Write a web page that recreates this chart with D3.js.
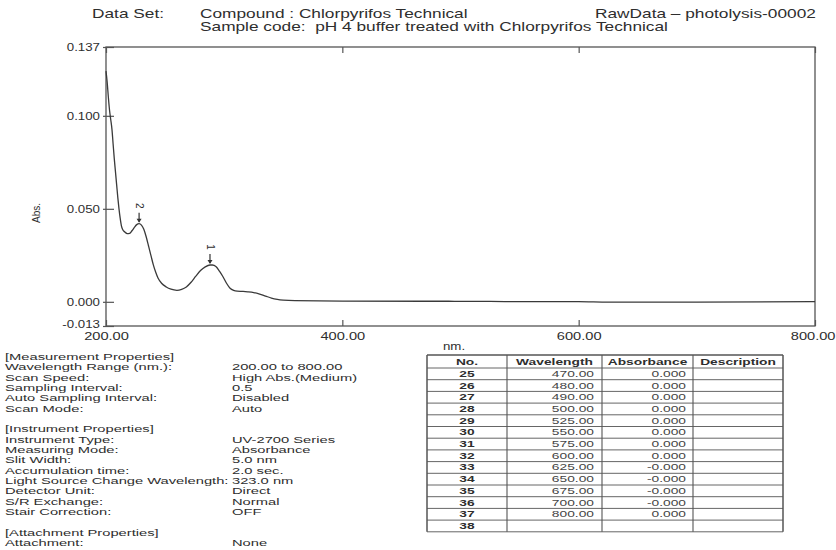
<!DOCTYPE html>
<html><head><meta charset="utf-8">
<script src="https://cdn.jsdelivr.net/npm/d3@7"></script>
<style>html,body{margin:0;padding:0;background:#fff;}svg{display:block;} text{white-space:pre;}</style>
</head><body>
<svg id="c" width="836" height="550"></svg>
<script>
// ---------- data ----------
const wavelengths = [200,201,202,203,204,205,206,207,208,209,210,211,212,213,214,216,218,220,222,224,226,228,230,232,234,236,238,240,242,244,247,251,255,260,264,268,272,276,280,284,288,290,293,296,299,302,305,308,311,316,320,325,330,335,340,345,350,360,400,470,480,490,500,525,550,575,600,625,650,675,700,800];
const absorbance  = [0.124,0.118,0.110,0.103,0.098,0.093,0.085,0.077,0.070,0.063,0.056,0.050,0.045,0.041,0.039,0.0375,0.0367,0.0368,0.0382,0.040,0.0415,0.042,0.0412,0.039,0.035,0.030,0.025,0.020,0.016,0.0128,0.0100,0.0080,0.0068,0.0062,0.0067,0.0080,0.0105,0.0138,0.0168,0.0188,0.0198,0.0198,0.0190,0.0165,0.0135,0.0100,0.0073,0.0061,0.0057,0.0056,0.0054,0.0050,0.0042,0.0031,0.0020,0.0013,0.0009,0.0006,0.0004,0.0003,0.0003,0.0003,0.0002,0.0002,0.0001,0.0001,0.0001,-0.0002,-0.0002,-0.0002,-0.0002,0.0001];
const peakWavelengths = [288, 228];
const peakAbsorbance  = [0.0198, 0.042];
const peakLabels = ["1", "2"];
const yTicks = [0.137, 0.100, 0.050, 0.000, -0.013];
const yTickLabels = ["0.137", "0.100", "0.050", "0.000", "-0.013"];
const xTicks = [200, 400, 600, 800];
const xTickLabels = ["200.00", "400.00", "600.00", "800.00"];

const headerLines = [
  ["Data Set:", "Compound : Chlorpyrifos Technical", "RawData \u2013 photolysis-00002"],
  ["", "Sample code:  pH 4 buffer treated with Chlorpyrifos Technical", ""]
];
const propLabels = ["[Measurement Properties]","Wavelength Range (nm.):","Scan Speed:","Sampling Interval:","Auto Sampling Interval:","Scan Mode:","","[Instrument Properties]","Instrument Type:","Measuring Mode:","Slit Width:","Accumulation time:","Light Source Change Wavelength:","Detector Unit:","S/R Exchange:","Stair Correction:","","[Attachment Properties]","Attachment:"];
const propValues = ["","200.00 to 800.00","High Abs.(Medium)","0.5","Disabled","Auto","","","UV-2700 Series","Absorbance","5.0 nm","2.0 sec.","323.0 nm","Direct","Normal","OFF","","","None"];

const tableHeaders = ["No.", "Wavelength", "Absorbance", "Description"];
const tableNo  = ["25","26","27","28","29","30","31","32","33","34","35","36","37","38"];
const tableWl  = ["470.00","480.00","490.00","500.00","525.00","550.00","575.00","600.00","625.00","650.00","675.00","700.00","800.00",""];
const tableAbs = ["0.000","0.000","0.000","0.000","0.000","0.000","0.000","0.000","-0.000","-0.000","-0.000","-0.000","0.000",""];

// ---------- drawing ----------
const SX = 1.33;
const INK = "#2e2e2e";
const FONT = "'Liberation Sans', Arial, sans-serif";
const svg = d3.select("#c");
svg.append("rect").attr("width",836).attr("height",550).attr("fill","#fff");

function T(g, x, y, s, o = {}) {
  return g.append("text")
    .attr("transform", `translate(${x},${y}) scale(${o.sx || SX},1)`)
    .attr("text-anchor", o.anchor || "start")
    .attr("font-family", FONT)
    .attr("font-size", o.size || 11)
    .attr("font-weight", o.weight || "normal")
    .attr("fill", o.fill || INK)
    .text(s);
}

// header
const hdr = svg.append("g");
const hx = [92, 200, 595], hy = [18, 31];
headerLines.forEach((line, r) => line.forEach((s, c) => { if (s) T(hdr, hx[c], hy[r], s, {size: 13}); }));

// plot
const L = 106, R = 815, TOP = 47, BOT = 326;
const x = d3.scaleLinear().domain([200, 800]).range([L, R]);
const y = d3.scaleLinear().domain([-0.013, 0.137]).range([BOT, TOP]);

const plot = svg.append("g");
plot.append("rect").attr("x", L).attr("y", TOP).attr("width", R - L).attr("height", BOT - TOP)
  .attr("fill", "none").attr("stroke", "#555").attr("stroke-width", 1.3);

function fixText(sel, sx) {
  sel.selectAll("text").each(function () {
    const t = d3.select(this);
    const tx = +t.attr("x") || 0, ty = +t.attr("y") || 0;
    t.attr("x", null).attr("y", null)
     .attr("transform", `translate(${tx},${ty}) scale(${sx},1)`)
     .attr("fill", INK);
  });
}

// left axis
const gy = plot.append("g").attr("transform", `translate(${L},0)`)
  .call(d3.axisLeft(y).tickValues(yTicks).tickSize(-8).tickPadding(6)
        .tickFormat((d, i) => yTickLabels[i]));
gy.select(".domain").remove();
gy.selectAll(".tick line").attr("x1", -3).attr("stroke", "#555").attr("stroke-width", 1.2);
gy.selectAll("text").attr("font-family", FONT).attr("font-size", 10);
fixText(gy, SX);
gy.selectAll(".tick").filter(d => d === -0.013).select("text").attr("dy", "0.1em");

// bottom axis
const gx = plot.append("g").attr("transform", `translate(0,${BOT})`)
  .call(d3.axisBottom(x).tickValues(xTicks).tickSize(-6).tickPadding(6)
        .tickFormat((d, i) => xTickLabels[i]));
gx.select(".domain").remove();
gx.selectAll(".tick line").attr("stroke", "#555").attr("stroke-width", 1.2);
gx.selectAll("text").attr("font-family", FONT).attr("font-size", 11);
fixText(gx, SX);
// last label sits flush with the right edge, as in the print
gx.selectAll(".tick").filter(d => d === 800).select("text")
  .attr("text-anchor", "end")
  .attr("transform", function () { return d3.select(this).attr("transform").replace(/translate\(([-\d.]+),/, "translate(20,"); });

// top axis ticks
const gt = plot.append("g").attr("transform", `translate(0,${TOP})`)
  .call(d3.axisTop(x).tickValues(xTicks).tickSize(-6).tickFormat(""));
gt.select(".domain").remove();
gt.selectAll(".tick line").attr("stroke", "#555").attr("stroke-width", 1.2);

// axis titles
plot.append("text").attr("transform", `translate(40,213) rotate(-90)`)
  .attr("text-anchor", "middle").attr("font-family", FONT)
  .attr("font-size", 10).attr("fill", INK).text("Abs.");
T(plot, 454, 350, "nm.", {size: 10, anchor: "middle"});

// curve
const pts = wavelengths.map((w, i) => [w, absorbance[i]]);
plot.append("path").datum(pts)
  .attr("d", d3.line().x(d => x(d[0])).y(d => y(d[1])).curve(d3.curveMonotoneX))
  .attr("fill", "none").attr("stroke", "#3a3a3a").attr("stroke-width", 1.3);

// peak markers
peakWavelengths.forEach((w, i) => {
  const px = x(w), py = y(peakAbsorbance[i]);
  plot.append("line").attr("x1", px).attr("x2", px).attr("y1", py - 11).attr("y2", py - 2)
    .attr("stroke", "#333").attr("stroke-width", 1.2);
  plot.append("path").attr("d", `M${px - 2.5},${py - 5} L${px + 2.5},${py - 5} L${px},${py - 1} Z`).attr("fill", "#333");
  plot.append("text").attr("transform", `translate(${px - 3},${py - 18}) rotate(90)`)
    .attr("text-anchor", "middle").attr("font-family", FONT)
    .attr("font-size", 10).attr("fill", INK).text(peakLabels[i]);
});

// properties
const props = svg.append("g");
propLabels.forEach((s, i) => {
  const yy = 360 + i * 10.33;
  if (s) T(props, 5, yy, s, {size: 9.5, sx: 1.55});
  if (propValues[i]) T(props, 232, yy, propValues[i], {size: 9.5, sx: 1.55});
});

// table
const tbl = svg.append("g");
const colX = [427, 507, 602, 693, 783];
const tTop = 355, hH = 13, rH = 11.7;
const nRows = tableNo.length;
const tBot = tTop + hH + nRows * rH;
for (let r = 0; r <= nRows; r++) {
  const yy = tTop + hH + r * rH;
  tbl.append("line").attr("x1", colX[0]).attr("x2", colX[4]).attr("y1", yy).attr("y2", yy)
    .attr("stroke", "#666").attr("stroke-width", 1);
}
colX.forEach((cx, i) => {
  tbl.append("line").attr("x1", cx).attr("x2", cx).attr("y1", tTop).attr("y2", tBot)
    .attr("stroke", "#555").attr("stroke-width", i === 0 || i === 4 ? 1.5 : 1.1);
});
tbl.append("line").attr("x1", colX[0]).attr("x2", colX[4]).attr("y1", tTop).attr("y2", tTop)
  .attr("stroke", "#555").attr("stroke-width", 1.5);
tableHeaders.forEach((h, i) => {
  T(tbl, (colX[i] + colX[i + 1]) / 2, tTop + 10, h, {size: 9.5, sx: 1.45, weight: "bold", anchor: "middle"});
});
tableNo.forEach((n, r) => {
  const yy = tTop + hH + r * rH + 8.8;
  T(tbl, (colX[0] + colX[1]) / 2, yy, n, {size: 9.5, sx: 1.45, weight: "bold", anchor: "middle"});
  if (tableWl[r]) T(tbl, colX[2] - 8, yy, tableWl[r], {size: 9.5, sx: 1.45, anchor: "end", fill: "#444"});
  if (tableAbs[r]) T(tbl, colX[3] - 7, yy, tableAbs[r], {size: 9.5, sx: 1.45, anchor: "end", fill: "#444"});
});
</script>
</body></html>
